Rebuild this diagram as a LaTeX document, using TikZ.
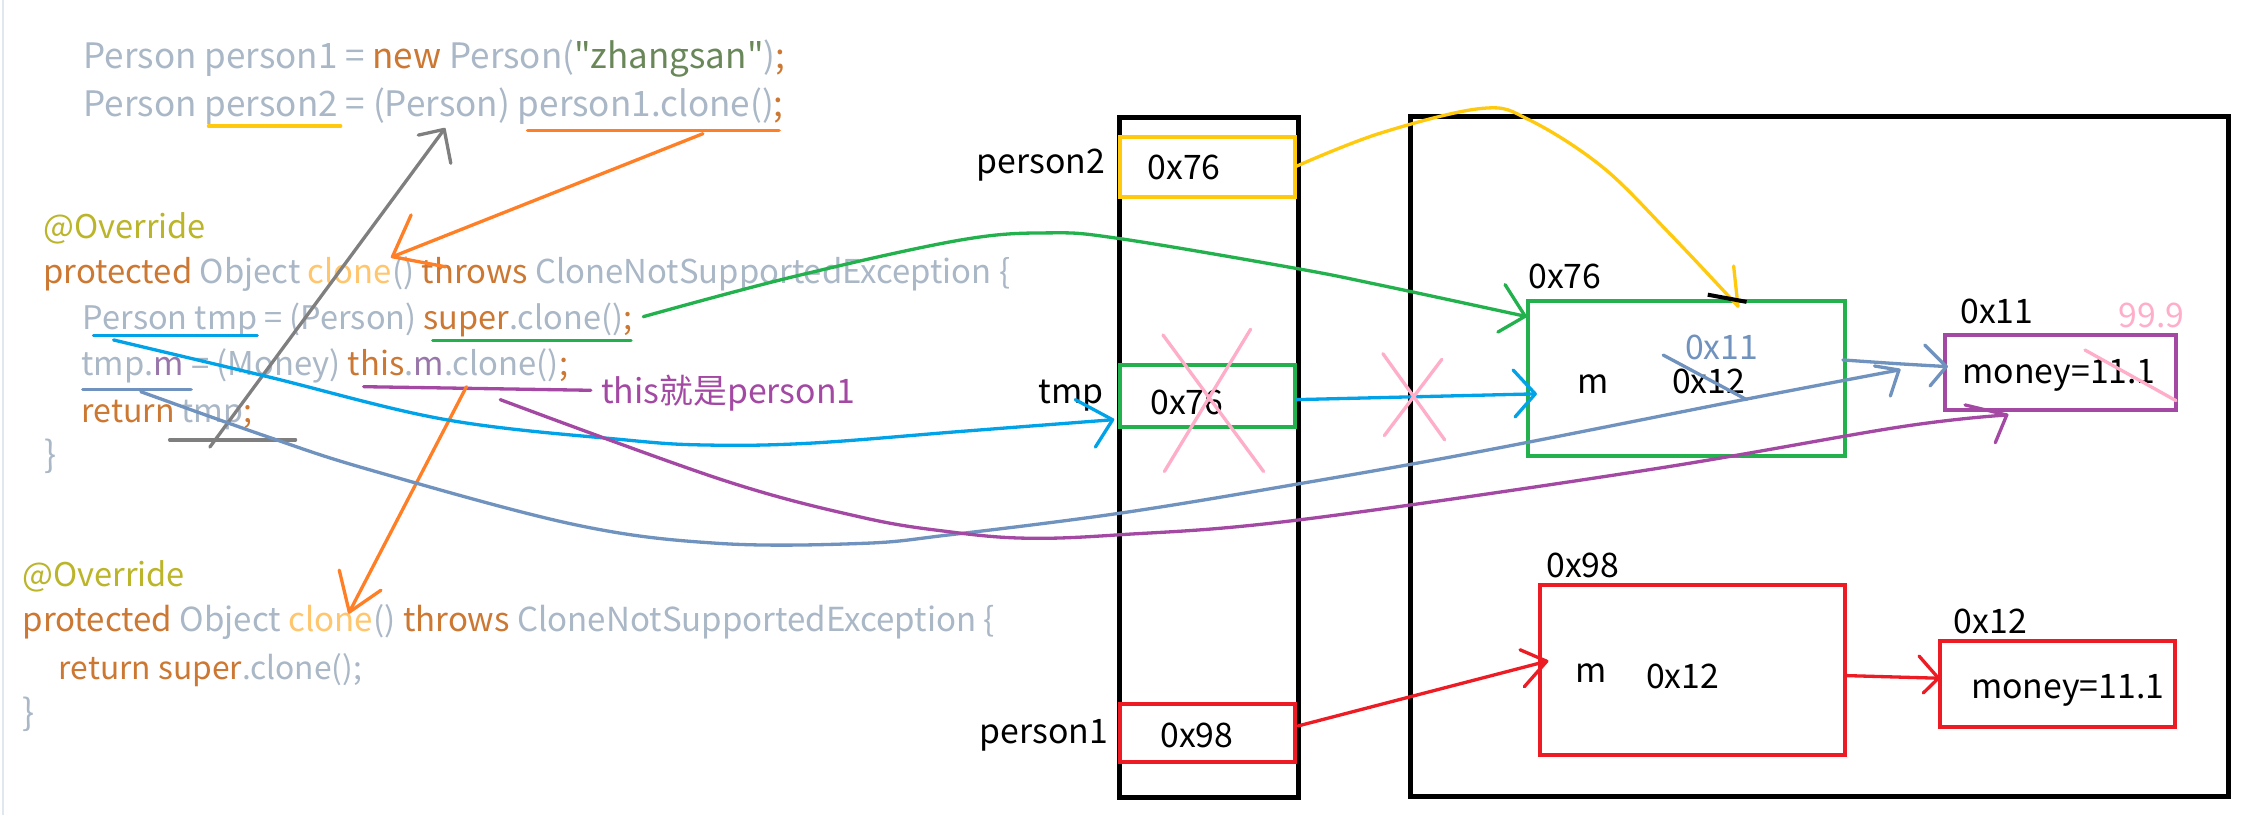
\documentclass[tikz,border=0pt]{standalone}
\usepackage{fontspec}
\setmainfont{Noto Sans CJK SC}[Ligatures=TeXOff]
\usepackage{graphicx}
\definecolor{codegray}{RGB}{169,183,198}
\definecolor{codekw}{RGB}{204,120,50}
\definecolor{codemeth}{RGB}{255,198,109}
\definecolor{codestr}{RGB}{106,135,89}
\definecolor{codeann}{RGB}{187,181,41}
\definecolor{codefld}{RGB}{152,118,170}
\definecolor{pyellow}{RGB}{255,201,14}
\definecolor{pgreen}{RGB}{34,177,76}
\definecolor{pred}{RGB}{237,28,36}
\definecolor{ppurple}{RGB}{163,73,164}
\definecolor{pblue}{RGB}{0,162,232}
\definecolor{psteel}{RGB}{112,146,190}
\definecolor{porange}{RGB}{255,127,39}
\definecolor{pgray}{RGB}{127,127,127}
\definecolor{ppink}{RGB}{255,174,201}
\definecolor{gutter}{RGB}{226,231,237}
\newcommand\tokG[1]{\textcolor{codegray}{#1}}
\newcommand\tokK[1]{\textcolor{codekw}{#1}}
\newcommand\tokM[1]{\textcolor{codemeth}{#1}}
\newcommand\tokS[1]{\textcolor{codestr}{#1}}
\newcommand\tokA[1]{\textcolor{codeann}{#1}}
\newcommand\tokF[1]{\textcolor{codefld}{#1}}
\newcommand\fitw[2]{\resizebox{#1pt}{!}{#2}}
\newcommand\dq{\symbol{34}}
\begin{document}
\begin{tikzpicture}[x=1pt,y=-1pt,
  cbox/.style={draw, line width=2.8pt, inner sep=0pt, outer sep=0pt, anchor=north west},
  memframe/.style={draw=black, line width=3.4pt, inner sep=0pt, outer sep=0pt, anchor=north west},
  pen/.style={line width=2.3pt, line cap=round, line join=round},
  codeline/.style={inner sep=0pt, anchor=base west, font=\fontsize{25}{30}\selectfont},
  lbl/.style={inner sep=0pt, anchor=base west, font=\fontsize{23.5}{28}\selectfont},
]
\useasboundingbox (0,0) rectangle (1568,567);
\fill[white] (0,0) rectangle (1568,567);
\draw[gutter, line width=1.5pt] (2,0) -- (2,567);

% ---------- code ----------
\node[codeline] (l1) at (58,48) {\fitw{488}{\tokG{Person person1 = }\tokK{new }\tokG{Person(}\tokS{\dq zhangsan\dq}\tokG{)}\tokK{;}}};
\node[codeline] (l2) at (58,81) {\fitw{487}{\tokG{Person person2 = (Person) person1.clone()}\tokK{;}}};

\node[codeline] (a1) at (30,166) {\fitw{113}{\tokA{@Override}}};
\node[codeline] (a2) at (30,197) {\fitw{672.6}{\tokK{protected }\tokG{Object }\tokM{clone}\tokG{() }\tokK{throws }\tokG{CloneNotSupportedException \{}}};
\node[codeline] (a3) at (57.5,229) {\fitw{382}{\tokG{Person tmp = (Person) }\tokK{super}\tokG{.clone()}\tokK{;}}};
\node[codeline] (a4) at (56.5,261) {\fitw{338.5}{\tokG{tmp.}\tokF{m }\tokG{= (Money) }\tokK{this}\tokG{.}\tokF{m}\tokG{.clone()}\tokK{;}}};
\node[codeline] (a5) at (56.5,293.6) {\fitw{119}{\tokK{return }\tokG{tmp}\tokK{;}}};
\node[codeline] (a6) at (31,325) {\tokG{\}}};

\node[codeline] (b1) at (15.5,408) {\fitw{113}{\tokA{@Override}}};
\node[codeline] (b2) at (15.5,439.4) {\fitw{676.5}{\tokK{protected }\tokG{Object }\tokM{clone}\tokG{() }\tokK{throws }\tokG{CloneNotSupportedException \{}}};
\node[codeline] (b3) at (40.8,473) {\fitw{211}{\tokK{return super}\tokG{.clone();}}};
\node[codeline] (b4) at (15.5,505) {\tokG{\}}};

% ---------- memory ----------
\node[memframe, minimum width=124pt, minimum height=473pt] (stack) at (779,82) {};
\node[memframe, minimum width=569pt, minimum height=473pt] (heap) at (981,81) {};

\node[cbox, draw=pyellow, minimum width=122pt, minimum height=42pt] (p2box) at (779,95) {};
\node[cbox, draw=pgreen, minimum width=122pt, minimum height=43pt] (tmpbox) at (779,254) {};
\node[cbox, draw=pred, minimum width=122pt, minimum height=40pt] (p1box) at (779,490) {};
\node[cbox, draw=pgreen, minimum width=220.5pt, minimum height=107.6pt] (objA) at (1063,209.4) {};
\node[cbox, draw=ppurple, minimum width=161pt, minimum height=52pt] (monA) at (1353,233) {};
\node[cbox, draw=pred, minimum width=212.5pt, minimum height=118pt] (objB) at (1071,407) {};
\node[cbox, draw=pred, minimum width=163.4pt, minimum height=59.8pt] (monB) at (1349.6,445.7) {};

% labels
\node[lbl, anchor=base east] (lp2) at (769,121) {person2};
\node[lbl] (v76a) at (798,125) {0x76};
\node[lbl, anchor=base east] (ltmp) at (768,281) {tmp};
\node[lbl] (v76b) at (800,288) {0x76};
\node[lbl, anchor=base east] (lp1) at (771,517) {person1};
\node[lbl] (v98a) at (807,520) {0x98};

\node[lbl] (hA) at (1063,201) {0x76};
\node[lbl] (mA) at (1097,274) {m};
\node[lbl] (vA) at (1163,274) {0x12};
\node[lbl, text=psteel] (vA2) at (1172,250) {0x11};
\node[lbl] (hM) at (1363.5,225) {0x11};
\node[lbl, text=ppink] (new99) at (1473.6,227.6) {99.9};
\node[lbl] (tM) at (1365,266.7) {money=11.1};

\node[lbl] (hB) at (1075.5,401.5) {0x98};
\node[lbl] (mB) at (1096,475) {m};
\node[lbl] (vB) at (1145,478.8) {0x12};
\node[lbl] (hN) at (1359,440.5) {0x12};
\node[lbl] (tN) at (1371,485.6) {money=11.1};

\node[lbl, text=ppurple] (note) at (418,281) {this就是person1};

% ---------- underlines ----------
\coordinate (uy1) at (145,87.7);  \coordinate (uy2) at (237,87.7);
\coordinate (uo1) at (367,91);    \coordinate (uo2) at (542,91);
\coordinate (ub1) at (65,233.5);  \coordinate (ub2) at (179,233.5);
\coordinate (ug1) at (301,237);   \coordinate (ug2) at (439,237);
\coordinate (up1) at (253,269);   \coordinate (up2) at (411,271.5);
\coordinate (us1) at (57.5,271);  \coordinate (us2) at (133,271);
\coordinate (uk1) at (118,306);   \coordinate (uk2) at (205.6,306);
\draw[pen, pyellow] (uy1) -- (uy2);
\draw[pen, porange] (uo1) -- (uo2);
\draw[pen, pblue] (ub1) -- (ub2);
\draw[pen, pgreen] (ug1) -- (ug2);
\draw[pen, ppurple] (up1) -- (up2);
\draw[pen, psteel] (us1) -- (us2);
\draw[pen, pgray] (uk1) -- (uk2);

% ---------- gray arrow ----------
\coordinate (gS) at (146,311); \coordinate (gT) at (309,90);
\draw[pen, pgray] (gS) -- (gT);
\draw[pen, pgray] (291,94) -- (gT) -- (313.6,113.6);

% ---------- orange arrows ----------
\coordinate (o1S) at (489,93); \coordinate (o1T) at (273,178.6);
\draw[pen, porange] (o1S) -- (o1T);
\draw[pen, porange] (286,149.5) -- (o1T) -- (310,185.6);
\coordinate (o2S) at (324.5,269); \coordinate (o2T) at (243,425.8);
\draw[pen, porange] (o2S) -- (o2T);
\draw[pen, porange] (236,396.6) -- (o2T) -- (265,410.6);

% ---------- blue: tmp ----------
\coordinate (bS) at (79,236.5); \coordinate (bT) at (774,292);
\draw[pen, pblue] plot[smooth, tension=0.6] coordinates {(bS) (186,262) (310.5,292) (434.8,306) (492.5,309.6) (563.5,308.3) (670,300) (bT)};
\draw[pen, pblue] (748,278) -- (bT) -- (762,311);

% ---------- green: super.clone() ----------
\coordinate (grS) at (447.5,220.3); \coordinate (grT) at (1061,220);
\draw[pen, pgreen] plot[smooth, tension=0.6] coordinates {(grS) (551.8,192.5) (668,167) (730,162) (779,166) (901,186.6) (960,198.3) (grT)};
\draw[pen, pgreen] (1047,198) -- (grT) -- (1042,231);

% ---------- yellow: person2 ----------
\coordinate (yT) at (1209,213);
\draw[pen, pyellow] plot[smooth, tension=0.6] coordinates {(p2box.east) (960,92.7) (1031,75.4) (1064,83.5) (1114.5,116) (1161,162) (yT)};
\draw[pen, pyellow] (1206,185) -- (yT);
\draw[line width=2.8pt, black] (1188,205) -- (1215,210);

% ---------- blue: tmp box -> object ----------
\coordinate (tbS) at (902,278); \coordinate (tbT) at (1068,274);
\draw[pen, pblue] (tbS) -- (tbT);
\draw[pen, pblue] (1052.6,257.4) -- (tbT) -- (1054,290);

% ---------- steel blue ----------
\coordinate (sS) at (98,272.5); \coordinate (sT) at (1321,257.4);
\draw[pen, psteel] plot[smooth, tension=0.6] coordinates {(sS) (186,303.8) (257.8,327) (400,365) (500,378) (600,378) (661,372) (779,357) (901,337) (1030,314) (1213,278) (sT)};
\draw[pen, psteel] (1304,254.6) -- (sT) -- (1315,275.5);
\coordinate (ssS) at (1282,250.4); \coordinate (ssT) at (1354,255);
\draw[pen, psteel] plot[smooth] coordinates {(ssS) (1320,253) (ssT)};
\draw[pen, psteel] (1339,240) -- (ssT) -- (1342.6,268.5);
\draw[pen, psteel] (1157,247) -- (1215,278);

% ---------- purple: this ----------
\coordinate (puS) at (348,278); \coordinate (puT) at (1396,288.7);
\draw[pen, ppurple] plot[smooth, tension=0.6] coordinates {(puS) (503,334) (600,360) (661,370) (714,374.4) (779,372) (901,362) (1145.6,327) (1321.7,297) (puT)};
\draw[pen, ppurple] (1367,281.7) -- (puT) -- (1388,308);

% ---------- pink crosses ----------
\draw[pen, ppink] (809,233) -- (879,328);
\draw[pen, ppink] (870,229) -- (810,328);
\draw[pen, ppink] (962,246) -- (1005,306);
\draw[pen, ppink] (1003,250) -- (963,303);
\draw[pen, ppink] (1450.4,243.5) -- (1513.7,278.7);

% ---------- red ----------
\coordinate (r1S) at (903,505); \coordinate (r1T) at (1076,460);
\draw[pen, pred] (r1S) -- (r1T);
\draw[pen, pred] (1057.4,452) -- (r1T) -- (1060.4,477.7);
\coordinate (r2S) at (1285,470); \coordinate (r2T) at (1348.5,471.8);
\draw[pen, pred] (r2S) -- (r2T);
\draw[pen, pred] (1335,456.4) -- (r2T) -- (1338,482);
\end{tikzpicture}
\end{document}
